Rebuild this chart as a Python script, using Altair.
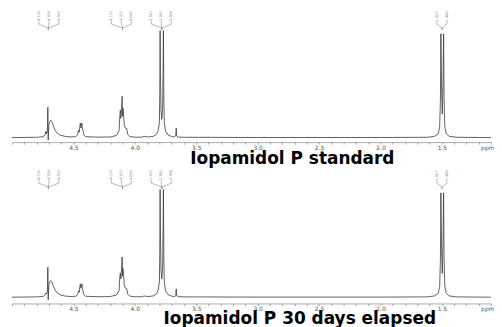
import altair as alt
import pandas as pd

# chemical shift (ppm) of spectrum vertices
PPM = [
    5.000, 4.800, 4.745, 4.730, 4.724, 4.718, 4.712, 4.708, 4.705, 4.700,
    4.692, 4.684, 4.676, 4.665, 4.652, 4.635, 4.610, 4.570, 4.520,
    4.480, 4.466, 4.459, 4.452, 4.446, 4.443, 4.439, 4.435, 4.431, 4.427,
    4.422, 4.415, 4.400,
    4.300, 4.200, 4.150, 4.135, 4.128, 4.122, 4.118, 4.113, 4.107, 4.103,
    4.100, 4.096, 4.092, 4.086, 4.078, 4.066, 4.058, 4.040, 4.000,
    3.940, 3.925, 3.918, 3.910, 3.895,
    3.850, 3.825, 3.810, 3.800, 3.797, 3.794, 3.791, 3.787, 3.7805, 3.774,
    3.770, 3.767, 3.764, 3.760, 3.750, 3.730, 3.700,
    3.675, 3.667, 3.663, 3.659, 3.645, 3.600, 3.000, 2.000,
    1.620, 1.560, 1.530, 1.518, 1.512, 1.508, 1.503, 1.497, 1.491, 1.486,
    1.482, 1.476, 1.464, 1.440, 1.380, 1.100,
]
STANDARD = [
    0.0, 0.3, 0.8, 3.0, 6.0, 3.5, 5.5, 28.4, -2.3, 12.0,
    15.0, 16.3, 15.2, 11.5, 7.5, 4.5, 2.4, 1.2, 0.6,
    0.9, 2.5, 7.0, 5.0, 12.0, 13.5, 9.0, 11.0, 13.5, 9.0,
    7.0, 2.5, 0.9,
    0.4, 0.6, 2.0, 5.0, 6.5, 20.0, 25.6, 18.0, 30.0, 38.6,
    20.0, 27.4, 22.0, 12.0, 9.0, 8.5, 3.0, 1.0, 0.4,
    0.4, 1.3, 0.9, 1.2, 0.5,
    1.2, 2.8, 6.5, 14.0, 40.0, 100.0, 60.0, 26.0, 17.0, 26.0,
    60.0, 100.0, 40.0, 14.0, 6.0, 2.5, 1.0,
    0.6, 1.5, 8.8, 1.5, 0.5, 0.3, 0.1, 0.1,
    0.3, 1.2, 3.5, 10.0, 35.0, 97.0, 50.0, 22.0, 50.0, 97.0,
    35.0, 10.0, 3.5, 1.2, 0.3, 0.0,
]
ELAPSED = [
    0.0, 0.3, 0.8, 2.5, 4.0, 3.0, 5.0, 27.8, -2.4, 11.5,
    14.2, 15.5, 14.5, 11.0, 7.2, 4.3, 2.3, 1.1, 0.6,
    0.9, 2.3, 6.0, 4.5, 11.0, 12.4, 8.5, 10.2, 12.4, 8.5,
    6.0, 2.3, 0.9,
    0.4, 0.6, 2.0, 4.8, 6.0, 19.0, 22.6, 17.0, 28.5, 37.4,
    19.5, 26.6, 21.0, 11.5, 8.5, 8.0, 2.8, 1.0, 0.4,
    0.4, 1.2, 0.8, 1.1, 0.5,
    1.2, 2.8, 6.5, 14.0, 40.0, 100.0, 60.0, 26.0, 17.0, 26.0,
    60.0, 100.0, 40.0, 14.0, 6.0, 2.5, 1.0,
    0.6, 1.4, 7.8, 1.4, 0.5, 0.3, 0.1, 0.1,
    0.3, 1.2, 3.5, 10.0, 35.0, 97.0, 50.0, 22.0, 50.0, 97.0,
    35.0, 10.0, 3.5, 1.2, 0.3, 0.0,
]
assert len(PPM) == len(STANDARD) == len(ELAPSED)

# peak-picking labels (fan annotations)
ANN_PEAK = [4.704, 4.704, 4.704, 4.100, 4.100, 4.100, 3.780, 3.780, 3.780, 1.499, 1.499]
ANN_LABEL_PPM = [4.781, 4.700, 4.619, 4.190, 4.109, 4.028, 3.865, 3.784, 3.703, 1.540, 1.459]
ANN_TEXT = ["4.716", "4.708", "4.700", "4.110", "4.103", "4.095",
            "3.793", "3.780", "3.768", "1.507", "1.486"]

TICK_VALUES = [5.0, 4.9, 4.8, 4.7, 4.6, 4.5, 4.4, 4.3, 4.2, 4.1, 4.0, 3.9, 3.8,
               3.7, 3.6, 3.5, 3.4, 3.3, 3.2, 3.1, 3.0, 2.9, 2.8, 2.7, 2.6, 2.5,
               2.4, 2.3, 2.2, 2.1, 2.0, 1.9, 1.8, 1.7, 1.6, 1.5, 1.4, 1.3, 1.2, 1.1]
TITLES = ["Iopamidol P standard", "Iopamidol P 30 days elapsed"]

LABEL_EXPR = ("datum.value < 1.15 ? 'ppm' : "
              "((abs(datum.value * 2 - round(datum.value * 2)) < 0.001 && datum.value < 4.95)"
              " ? format(datum.value, '.1f') : '')")

W = 481


def panel(intens, title, ydom, height, title_x, title_y):
    spec = pd.DataFrame({"ppm": PPM, "I": intens, "o": list(range(len(PPM)))})
    ann = pd.DataFrame({
        "peak": ANN_PEAK, "lab": ANN_LABEL_PPM, "txt": ANN_TEXT,
        "y_lab": [108.8] * len(ANN_PEAK), "y_bend": [106.0] * len(ANN_PEAK),
        "y_join": [102.5] * len(ANN_PEAK), "y_end": [100.5] * len(ANN_PEAK),
    })
    xs = alt.Scale(domain=[5.0, 1.1], nice=False, zero=False)
    ys = alt.Scale(domain=ydom, nice=False, zero=False)
    xaxis = alt.Axis(
        values=TICK_VALUES, labelExpr=LABEL_EXPR, tickSize=2, tickColor="#888",
        tickWidth=0.8, domainColor="#999", domainWidth=0.8, labelFontSize=6,
        labelColor="#555", labelFont="DejaVu Sans", labelFlush=False,
        labelAlign={"condition": {"test": "datum.value < 1.15", "value": "right"},
                    "value": "center"},
        labelOffset={"condition": {"test": "datum.value < 1.15", "value": 3},
                     "value": 0},
        labelOverlap=False, labelPadding=0, labelBound=False, grid=False, title=title,
        titleFont="DejaVu Sans", titleFontSize=17, titleFontWeight="bold",
        titleColor="#000", titleX=title_x, titleY=title_y, titleAlign="center",
        titleBaseline="middle",
    )
    line = alt.Chart(spec).mark_line(color="#3a3a3a", strokeWidth=0.8).encode(
        x=alt.X("ppm:Q", scale=xs, axis=xaxis),
        y=alt.Y("I:Q", scale=ys, axis=None),
        order="o:Q",
    )
    base = alt.Chart(ann)
    txt = base.mark_text(angle=270, align="left", baseline="middle",
                         fontSize=3.5, color="#888", font="DejaVu Sans").encode(
        x=alt.X("lab:Q", scale=xs, axis=xaxis), y=alt.Y("y_lab:Q", scale=ys, axis=None),
        text="txt:N")
    r1 = base.mark_rule(color="#888", strokeWidth=0.6).encode(
        x=alt.X("lab:Q", scale=xs, axis=xaxis), y=alt.Y("y_lab:Q", scale=ys, axis=None),
        y2="y_bend:Q")
    r2 = base.mark_rule(color="#888", strokeWidth=0.6).encode(
        x=alt.X("lab:Q", scale=xs, axis=xaxis), x2="peak:Q",
        y=alt.Y("y_bend:Q", scale=ys, axis=None), y2="y_join:Q")
    r3 = base.mark_rule(color="#888", strokeWidth=0.6).encode(
        x=alt.X("peak:Q", scale=xs, axis=xaxis), y=alt.Y("y_join:Q", scale=ys, axis=None),
        y2="y_end:Q")
    return alt.layer(line, r1, r2, r3, txt).properties(width=W, height=height)


top = panel(STANDARD, TITLES[0], [-4.2, 120.5], 134, 281, 16)
bottom = panel(ELAPSED, TITLES[1], [-5.8, 122.0], 138, 288.5, 15.5)

chart = alt.vconcat(top, bottom, spacing=0).properties(
    padding={"left": 2, "top": 0, "right": 0, "bottom": 0},
    background="white",
).configure_view(stroke=None)

chart.save("out.html", embed_options={"renderer": "svg", "actions": False})
